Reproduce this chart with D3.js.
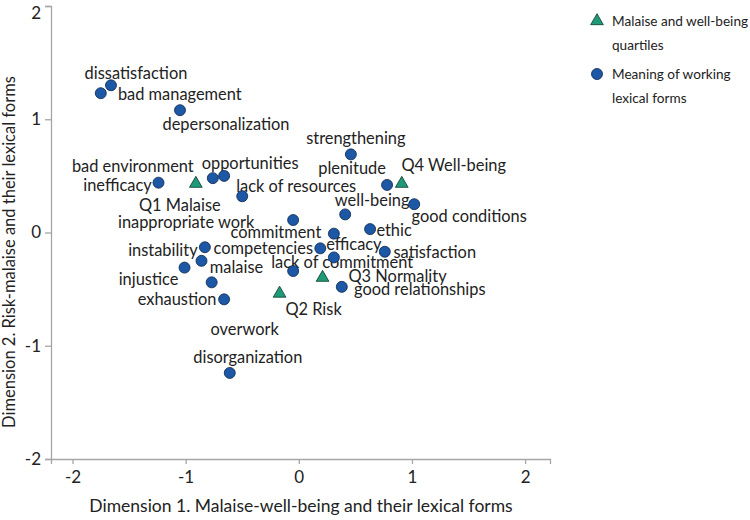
<!DOCTYPE html>
<html>
<head>
<meta charset="utf-8">
<script src="https://cdn.jsdelivr.net/npm/d3@7"></script>
<style>
  html, body { margin: 0; padding: 0; background: #fff; }
  svg { display: block; font-family: Lato, "Open Sans", sans-serif; }
</style>
</head>
<body>
<svg id="chart" width="750" height="520"></svg>
<script>
// ---- data ----
const formLabels = ["dissatisfaction","bad management","depersonalization","strengthening","bad environment","opportunities","lack of resources","plenitude","inefficacy","inappropriate work","well-being","good conditions","commitment","ethic","instability","competencies","efficacy","satisfaction","lack of commitment","malaise","injustice","exhaustion","good relationships","overwork","disorganization"];
const formDim1 = [-1.66,-1.75,-1.05,0.46,-0.76,-0.66,-0.50,0.78,-1.24,-0.05,0.41,1.02,0.31,0.63,-0.83,0.19,0.31,0.76,-0.05,-0.86,-1.01,-0.66,0.38,-0.77,-0.61];
const formDim2 = [1.30,1.23,1.08,0.69,0.48,0.50,0.32,0.42,0.44,0.11,0.16,0.25,-0.01,0.03,-0.13,-0.14,-0.22,-0.17,-0.34,-0.25,-0.31,-0.59,-0.48,-0.44,-1.24];

const quartileLabels = ["Q1 Malaise","Q2 Risk","Q3 Normality","Q4 Well-being"];
const quartileDim1 = [-0.91,-0.17,0.21,0.91];
const quartileDim2 = [0.44,-0.53,-0.39,0.44];

const xTicks = [-2,-1,0,1,2];
const yTicks = [-2,-1,0,1,2];

const legendLabels = [["Malaise and well-being","quartiles"],["Meaning of working","lexical forms"]];

// ---- label placement (pixel offsets of label centre from its mark) ----
const formLabelOffsets = [[25,-13],[79,0],[46,13],[5,-17],[-80,-13],[26,-13],[54,-11],[-35,-17],[-41,2],[-107,1],[27,-15],[55,11],[-58,-2],[24,0],[-42,2],[-57,-1],[20,-14],[50,0],[49,-10],[35,6],[-36,11],[-47,-1],[78,2],[33,46],[18,-16]];
const quartileLabelOffsets = [[-16,22],[34,16],[75,-1],[52,-18]];

// ---- drawing ----
const svg = d3.select("#chart");
const blue = "#1c58a6", green = "#1f9a78", axisCol = "#a6a6a6", textCol = "#222";

const x = d3.scaleLinear().domain([-2.19, 2.22]).range([51, 550]);
const y = d3.scaleLinear().domain([-2, 2]).range([459, 6]);

const xAxis = svg.append("g").attr("transform", "translate(0,459)")
  .call(d3.axisBottom(x).tickValues(xTicks).tickSizeOuter(0).tickSize(5).tickFormat(d3.format("d")));
const yAxis = svg.append("g").attr("transform", "translate(51,0)")
  .call(d3.axisLeft(y).tickValues(yTicks).tickSizeOuter(0).tickSize(6).tickFormat(d3.format("d")));
[xAxis, yAxis].forEach(g => {
  g.select(".domain").attr("stroke", axisCol).attr("stroke-width", 1.3);
  g.selectAll(".tick line").attr("stroke", axisCol).attr("stroke-width", 1.3);
  g.selectAll(".tick text").attr("fill", textCol).style("font-size", "17px").style("font-family", "Lato, sans-serif");
});
xAxis.selectAll(".tick text").attr("dy", "0.95em").text(d => d < 0 ? "-" + Math.abs(d) : d);
yAxis.selectAll(".tick text").attr("x", -10).text(d => d < 0 ? "-" + Math.abs(d) : d);
yAxis.selectAll(".tick text").filter(d => d === 2).attr("dy", "0.72em");

svg.append("text").attr("x", 301).attr("y", 512).attr("text-anchor", "middle")
  .attr("fill", textCol).style("font-size", "17.5px")
  .text("Dimension 1. Malaise-well-being and their lexical forms");
svg.append("text").attr("transform", "translate(15,252) rotate(-90)").attr("text-anchor", "middle")
  .attr("fill", textCol).style("font-size", "16.5px")
  .text("Dimension 2. Risk-malaise and their lexical forms");

const forms = formLabels.map((l, i) => ({label: l, d1: formDim1[i], d2: formDim2[i], off: formLabelOffsets[i]}));
const quarts = quartileLabels.map((l, i) => ({label: l, d1: quartileDim1[i], d2: quartileDim2[i], off: quartileLabelOffsets[i]}));

const tri = d3.symbol().type(d3.symbolTriangle).size(70);

// labels
const allLabels = forms.concat(quarts);
svg.append("g").selectAll("text").data(allLabels).join("text")
  .attr("x", d => x(d.d1) + d.off[0])
  .attr("y", d => y(d.d2) + d.off[1])
  .attr("text-anchor", "middle").attr("dominant-baseline", "central")
  .attr("fill", textCol).style("font-size", "16.4px")
  .text(d => d.label);

// points
svg.append("g").selectAll("circle").data(forms).join("circle")
  .attr("cx", d => x(d.d1)).attr("cy", d => y(d.d2)).attr("r", 5.5)
  .attr("fill", blue).attr("stroke", "#0b2447").attr("stroke-width", 0.8);
svg.append("g").selectAll("path").data(quarts).join("path")
  .attr("d", tri).attr("transform", d => `translate(${x(d.d1)},${y(d.d2) + 1})`)
  .attr("fill", green).attr("stroke", "#0b3a2c").attr("stroke-width", 0.8);

// legend
const lg = svg.append("g");
lg.append("path").attr("d", tri).attr("transform", "translate(597,21)")
  .attr("fill", green).attr("stroke", "#0b3a2c").attr("stroke-width", 0.8);
lg.append("circle").attr("cx", 597).attr("cy", 74).attr("r", 5.5)
  .attr("fill", blue).attr("stroke", "#0b2447").attr("stroke-width", 0.8);
legendLabels.forEach((lines, i) => {
  lines.forEach((t, j) => {
    lg.append("text").attr("x", 612).attr("y", 21 + i * 53 + j * 24)
      .attr("dominant-baseline", "central").attr("fill", textCol)
      .style("font-size", "13.6px").text(t);
  });
});
</script>
</body>
</html>
